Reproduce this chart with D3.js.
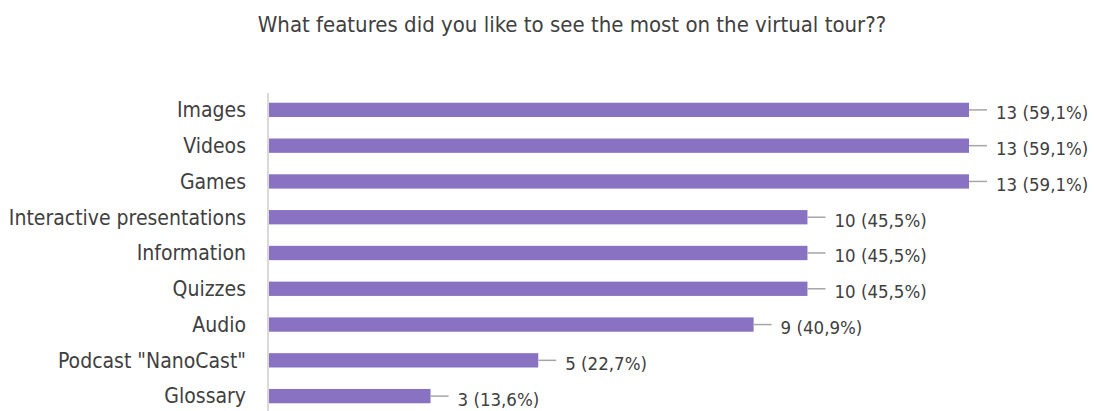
<!DOCTYPE html>
<html>
<head>
<meta charset="utf-8">
<script src="https://cdn.jsdelivr.net/npm/d3@7"></script>
<style>
  body { margin: 0; background: #fff; }
  text { font-family: "DejaVu Sans Condensed", "DejaVu Sans", sans-serif; font-stretch: condensed; fill: #404040; }
</style>
</head>
<body>
<svg id="chart"></svg>
<script>
const categories = ["Images", "Videos", "Games", "Interactive presentations", "Information", "Quizzes", "Audio", "Podcast \"NanoCast\"", "Glossary"];
const counts = [13, 13, 13, 10, 10, 10, 9, 5, 3];
const percents = ["59,1%", "59,1%", "59,1%", "45,5%", "45,5%", "45,5%", "40,9%", "22,7%", "13,6%"];
const title = "What features did you like to see the most on the virtual tour??";

const width = 1094, height = 411;
const svg = d3.select("#chart").attr("width", width).attr("height", height);

const data = categories.map((c, i) => ({cat: c, n: counts[i], pct: percents[i]}));

const x = d3.scaleLinear().domain([0, 13]).range([269, 969]);
const y = d3.scaleBand().domain(categories).range([92, 414]).paddingInner(0.6).paddingOuter(0.3);

svg.append("text")
  .attr("x", 572).attr("y", 32)
  .attr("text-anchor", "middle")
  .style("font-size", "22px")
  .text(title);

// bars
svg.selectAll("rect.bar")
  .data(data)
  .enter().append("rect")
  .attr("class", "bar")
  .attr("x", x(0))
  .attr("y", d => y(d.cat))
  .attr("width", d => x(d.n) - x(0))
  .attr("height", y.bandwidth())
  .style("fill", "#8872c1");

// axis line
svg.append("line")
  .attr("x1", 268).attr("x2", 268)
  .attr("y1", 93).attr("y2", height)
  .style("stroke", "#d9d9d9").style("stroke-width", 2);

// category labels
svg.selectAll("text.cat")
  .data(data)
  .enter().append("text")
  .attr("class", "cat")
  .attr("x", 246)
  .attr("y", d => y(d.cat) + y.bandwidth() / 2)
  .attr("dy", "0.35em")
  .attr("text-anchor", "end")
  .style("font-size", "21px")
  .text(d => d.cat);

// leader lines
svg.selectAll("line.lead")
  .data(data)
  .enter().append("line")
  .attr("class", "lead")
  .attr("x1", d => x(d.n))
  .attr("x2", d => x(d.n) + 18)
  .attr("y1", d => y(d.cat) + y.bandwidth() / 2)
  .attr("y2", d => y(d.cat) + y.bandwidth() / 2)
  .style("stroke", "#a6a6a6").style("stroke-width", 1.5);

// value labels
svg.selectAll("text.val")
  .data(data)
  .enter().append("text")
  .attr("class", "val")
  .attr("x", d => x(d.n) + 27)
  .attr("y", d => y(d.cat) + y.bandwidth() / 2 + 3)
  .attr("dy", "0.35em")
  .style("font-size", "18.5px")
  .text(d => `${d.n} (${d.pct})`);
</script>
</body>
</html>
